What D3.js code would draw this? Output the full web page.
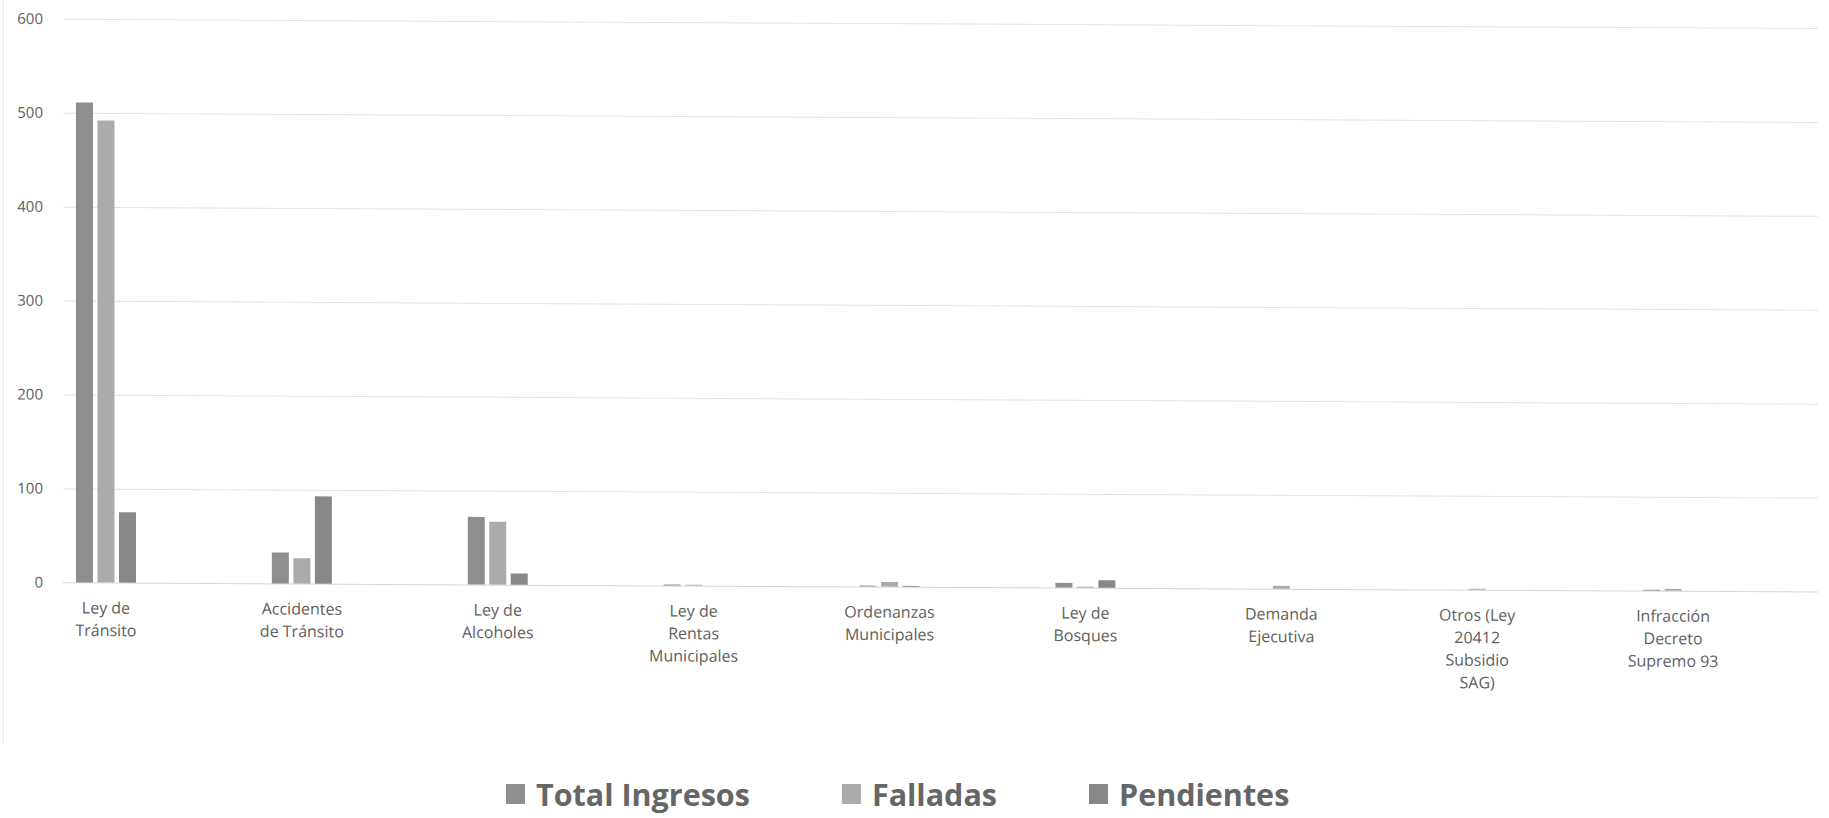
<!DOCTYPE html>
<html>
  <head>
    <meta charset="utf-8">
    <title>Causas por materia</title>
    <script src="https://d3js.org/d3.v7.min.js" charset="utf-8"></script>
    <style>
      body { margin: 0; background: #fff; }
      svg { display: block; }
    </style>
  </head>
  <body>
    <svg width="1829" height="818"></svg>

    <script>
    //categories (materias) and the wrapped lines of each tick label
    var categories = ["Ley de Tránsito", "Accidentes de Tránsito", "Ley de Alcoholes",
      "Ley de Rentas Municipales", "Ordenanzas Municipales", "Ley de Bosques",
      "Demanda Ejecutiva", "Otros (Ley 20412 Subsidio SAG)", "Infracción Decreto Supremo 93"];

    var labelLines = [
      ["Ley de", "Tránsito"],
      ["Accidentes", "de Tránsito"],
      ["Ley de", "Alcoholes"],
      ["Ley de", "Rentas", "Municipales"],
      ["Ordenanzas", "Municipales"],
      ["Ley de", "Bosques"],
      ["Demanda", "Ejecutiva"],
      ["Otros (Ley", "20412", "Subsidio", "SAG)"],
      ["Infracción", "Decreto", "Supremo 93"]
    ];

    //series
    var series = ["Total Ingresos", "Falladas", "Pendientes"];
    var totalIngresos = [511, 33, 72, 1, 1, 5, 0, 0, 1];
    var falladas      = [492, 27, 67, 1, 5, 1, 3, 1, 2];
    var pendientes    = [75, 93, 12, 0, 1, 8, 0, 0, 0];

    //y axis ticks
    var yTicks = [0, 100, 200, 300, 400, 500, 600];

    var values = [totalIngresos, falladas, pendientes];

    var svg = d3.select("svg");

    //the scanned chart leans a little to the right, so shear everything slightly
    var g = svg.append("g")
        .attr("transform", "skewY(0.3)");

    //plot area (window.top is reserved, so prefix the names)
    var plotLeft = 57, plotRight = 1820, plotTop = 18.5, plotBottom = 582;
    var slot = (plotRight - plotLeft) / 18;

    //category centres sit in every other slot
    var x0 = d3.scalePoint()
        .domain(categories)
        .range([plotLeft + slot / 2, plotLeft + slot * 16.5]);

    var x1 = d3.scaleBand()
        .domain(series)
        .range([-30, 30])
        .paddingInner(0.21);

    var y = d3.scaleLinear()
        .domain([0, 600])
        .range([plotBottom, plotTop]);

    var z = d3.scaleOrdinal()
        .domain(series)
        .range(["#8e8e8e", "#ababab", "#888888"]);

    //faint chart border on the left
    svg.append("line")
        .attr("x1", 3.5).attr("x2", 3.5)
        .attr("y1", 0).attr("y2", 745)
        .attr("stroke", "#ececec");

    //gridlines
    g.append("g")
        .selectAll("line")
        .data(yTicks)
        .enter().append("line")
          .attr("x1", 63)
          .attr("x2", 1818)
          .attr("y1", function(d) { return y(d) + 0.5; })
          .attr("y2", function(d) { return y(d) + 0.5; })
          .attr("stroke", function(d) { return d === 0 ? "#d6d6d6" : "#e3e3e3"; })
          .attr("stroke-width", 1);

    //y axis labels
    g.append("g")
        .selectAll("text")
        .data(yTicks)
        .enter().append("text")
          .attr("x", 43)
          .attr("y", function(d) { return y(d); })
          .attr("dy", "0.35em")
          .attr("text-anchor", "end")
          .attr("font-family", "'Open Sans', sans-serif")
          .attr("font-size", 15)
          .attr("fill", "#606060")
          .text(function(d) { return d; });

    //bars
    var groups = g.append("g")
        .selectAll("g")
        .data(categories)
        .enter().append("g")
          .attr("transform", function(d) { return "translate(" + x0(d) + ",0)"; });

    groups.selectAll("rect")
        .data(function(d, i) { return series.map(function(s, j) { return {key: s, value: values[j][i]}; }); })
        .enter().append("rect")
          .attr("x", function(d) { return x1(d.key); })
          .attr("y", function(d) { return y(d.value); })
          .attr("width", x1.bandwidth())
          .attr("height", function(d) { return y(0) - y(d.value); })
          .attr("fill", function(d) { return z(d.key); });

    //x axis labels, one tspan per line
    var labels = g.append("g")
        .attr("font-family", "'Open Sans', sans-serif")
        .attr("font-size", 16)
        .attr("fill", "#606060")
        .attr("text-anchor", "middle")
        .selectAll("text")
        .data(categories)
        .enter().append("text")
          .attr("x", function(d) { return x0(d); })
          .attr("y", plotBottom + 31);

    labels.selectAll("tspan")
        .data(function(d, i) { return labelLines[i]; })
        .enter().append("tspan")
          .attr("x", function() { return d3.select(this.parentNode).attr("x"); })
          .attr("dy", function(d, i) { return i === 0 ? 0 : 22.5; })
          .text(function(d) { return d; });

    //legend
    var legend = svg.append("g")
        .attr("font-family", "'Open Sans', sans-serif")
        .attr("font-weight", "bold")
        .attr("font-size", 30.5)
        .attr("fill", "#666");

    var lx = 506;
    series.forEach(function(s) {
      legend.append("rect")
          .attr("x", lx)
          .attr("y", 784)
          .attr("width", 19)
          .attr("height", 20)
          .attr("fill", z(s));
      var t = legend.append("text")
          .attr("x", lx + 30)
          .attr("y", 806)
          .text(s);
      lx += 30 + t.node().getComputedTextLength() + 92;
    });
    </script>
  </body>
</html>
